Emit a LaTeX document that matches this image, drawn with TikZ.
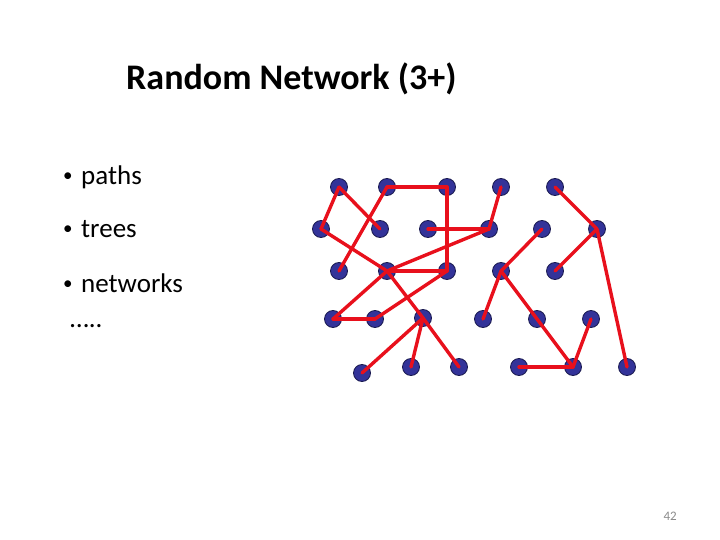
\documentclass[tikz,border=0pt]{standalone}
\usepackage{fontspec}
\setmainfont{Carlito}
\definecolor{dotblue}{HTML}{333399}
\definecolor{dotedge}{HTML}{1A1A50}
\definecolor{linkred}{HTML}{E8101C}
\definecolor{pagegray}{HTML}{8A8A8A}
\begin{document}
\begin{tikzpicture}[x=1pt,y=-1pt,
  dot/.style={circle,fill=dotblue,draw=dotedge,line width=0.8pt,minimum size=17pt,inner sep=0pt},
  link/.style={draw=linkred,line width=3.4pt,line cap=round},
  bul/.style={anchor=base west,inner sep=0pt,font=\fontsize{27}{32}\selectfont},
  bulmark/.style={anchor=base west,inner sep=0pt,font=\fontsize{19}{22}\selectfont}]
\useasboundingbox (0,0) rectangle (720,540);
% title
\node[anchor=base west,inner sep=0pt,font=\fontsize{36}{42}\selectfont\bfseries] (title) at (126,90) {Random Network (3+)};
% bullets
\node[bulmark] (m1) at (63,182) {•};
\node[bul] (b1t) at (81,185) {paths};
\node[bulmark] (m2) at (63,234) {•};
\node[bul] (b2t) at (81,237) {trees};
\node[bulmark] (m3) at (63,289) {•};
\node[bul] (b3t) at (81,292) {networks};
\node[bul] (dots) at (70,327) {…..};
\node[anchor=base east,inner sep=0pt,text=pagegray,font=\fontsize{13}{15}\selectfont] (pnum) at (677,520) {42};
% nodes
\node[dot] (a1) at (339,187) {};
\node[dot] (a2) at (387,187) {};
\node[dot] (a3) at (447,187) {};
\node[dot] (a4) at (501,187) {};
\node[dot] (a5) at (555,187) {};
\node[dot] (b1) at (321,229) {};
\node[dot] (b2) at (380,229) {};
\node[dot] (b3) at (428,229) {};
\node[dot] (b4) at (489,229) {};
\node[dot] (b5) at (542,229) {};
\node[dot] (b6) at (597,229) {};
\node[dot] (c1) at (339,271) {};
\node[dot] (c2) at (387,271) {};
\node[dot] (c3) at (447,271) {};
\node[dot] (c4) at (501,271) {};
\node[dot] (c5) at (555,271) {};
\node[dot] (d1) at (333,319) {};
\node[dot] (d2) at (375,319) {};
\node[dot] (d3) at (423,318) {};
\node[dot] (d4) at (483,319) {};
\node[dot] (d5) at (537,319) {};
\node[dot] (d6) at (591,319) {};
\node[dot] (e1) at (362,373) {};
\node[dot] (e2) at (411,367) {};
\node[dot] (e3) at (459,367) {};
\node[dot] (e4) at (519,367) {};
\node[dot] (e5) at (573,367) {};
\node[dot] (e6) at (627,367) {};
% links
\foreach \u/\v in {a1/b1,a1/b2,a2/c1,a2/a3,a3/c3,b1/c2,b3/b4,c2/b4,c2/c3,a4/b4,a5/b6,b6/c5,b6/e6,b5/c4,c4/d4,c4/e5,e4/e5,e5/d6,c2/d1,c3/d2,d1/d2,c2/d3,d3/e1,d3/e2,d3/e3}
  \draw[link] (\u.center) -- (\v.center);
\end{tikzpicture}
\end{document}
